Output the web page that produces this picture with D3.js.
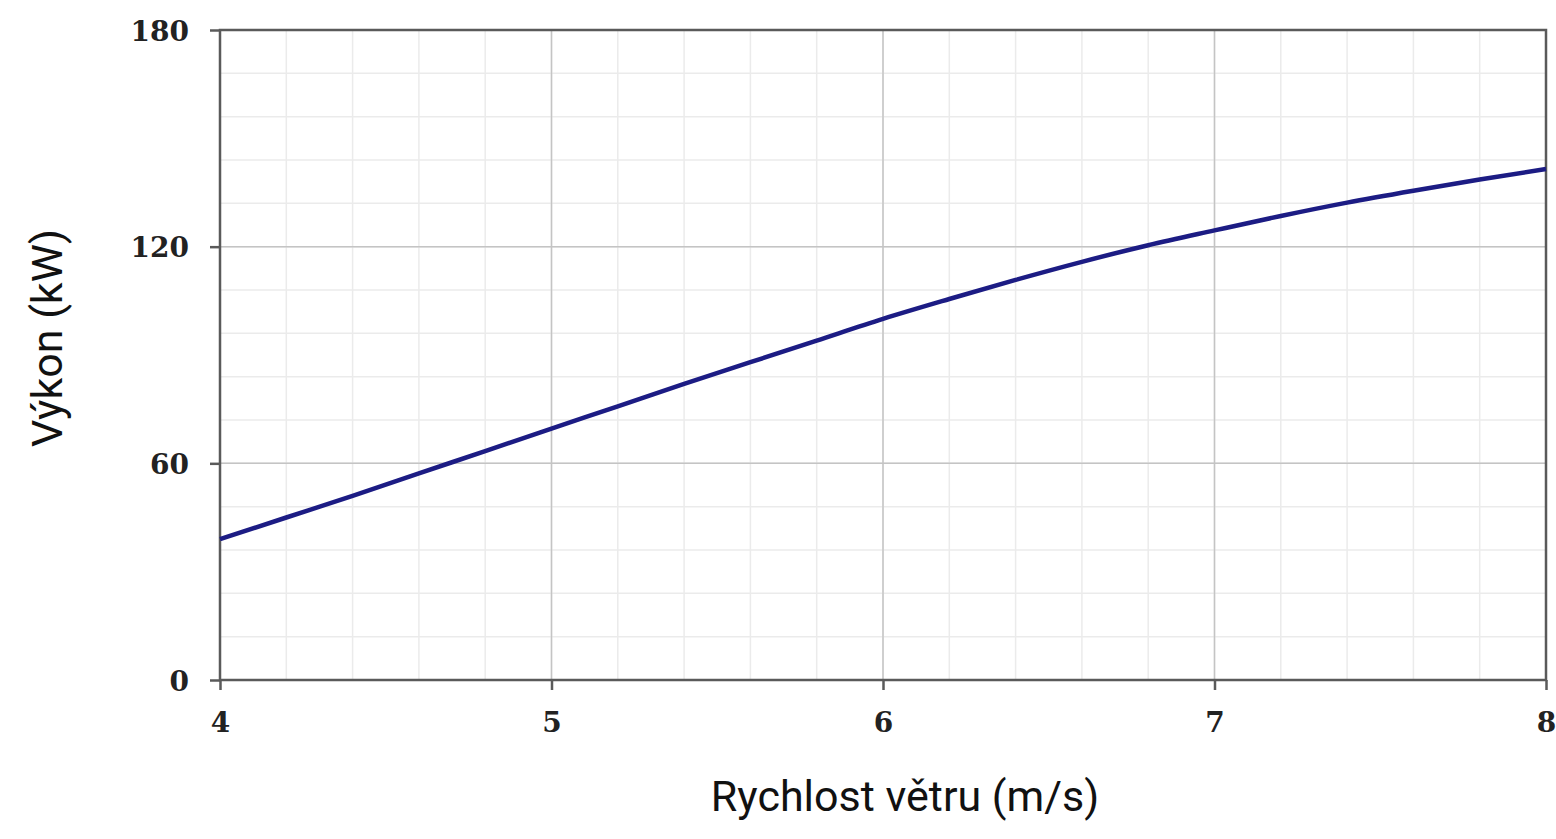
<!DOCTYPE html>
<html>
<head>
<meta charset="utf-8">
<script src="https://cdn.jsdelivr.net/npm/d3@7"></script>
<style>
  body { margin: 0; background: #fff; }
  .tick text { font-family: "DejaVu Serif", serif; font-weight: bold; font-size: 28px; fill: #222; }
  .lbl { font-family: Roboto, "Noto Sans", sans-serif; font-size: 43px; fill: #111; }
</style>
</head>
<body>
<script>
const w = 1556;
const h = 839;

// wind speed (m/s) and power (kW)
const speed = [4.0, 4.2, 4.4, 4.6, 4.8, 5.0, 5.2, 5.4, 5.6, 5.8, 6.0,
               6.2, 6.4, 6.6, 6.8, 7.0, 7.2, 7.4, 7.6, 7.8, 8.0];
const power = [39, 45, 51, 57.2, 63.4, 69.6, 75.8, 82, 88, 94, 100,
               105.5, 110.8, 115.8, 120.4, 124.5, 128.5, 132.2, 135.5, 138.6, 141.5];
const xTicks = [4, 5, 6, 7, 8];
const yTicks = [0, 60, 120, 180];

const plotLeft = 220, plotRight = 1546, plotTop = 30, plotBottom = 680;

let svg = d3.select("body").append("svg")
  .attr("width", w)
  .attr("height", h);

let x = d3.scaleLinear().domain([4, 8]).range([plotLeft, plotRight]);
let y = d3.scaleLinear().domain([0, 180]).range([plotBottom, plotTop]);

// minor grid
svg.append("g").selectAll("line")
  .data(d3.range(4, 8.001, 0.2))
  .enter().append("line")
  .attr("x1", d => x(d)).attr("x2", d => x(d))
  .attr("y1", plotTop).attr("y2", plotBottom)
  .attr("stroke", "#ebebeb").attr("stroke-width", 1.5);
svg.append("g").selectAll("line")
  .data(d3.range(0, 180.001, 12))
  .enter().append("line")
  .attr("x1", plotLeft).attr("x2", plotRight)
  .attr("y1", d => y(d)).attr("y2", d => y(d))
  .attr("stroke", "#ebebeb").attr("stroke-width", 1.5);

// major grid
svg.append("g").selectAll("line")
  .data(xTicks)
  .enter().append("line")
  .attr("x1", d => x(d)).attr("x2", d => x(d))
  .attr("y1", plotTop).attr("y2", plotBottom)
  .attr("stroke", "#c4c4c4").attr("stroke-width", 1.5);
svg.append("g").selectAll("line")
  .data(yTicks)
  .enter().append("line")
  .attr("x1", plotLeft).attr("x2", plotRight)
  .attr("y1", d => y(d)).attr("y2", d => y(d))
  .attr("stroke", "#c4c4c4").attr("stroke-width", 1.5);

// frame
svg.append("rect")
  .attr("x", plotLeft).attr("y", plotTop)
  .attr("width", plotRight - plotLeft).attr("height", plotBottom - plotTop)
  .attr("fill", "none").attr("stroke", "#5a5a5a").attr("stroke-width", 2.5);

// axes
let xAxis = svg.append("g")
  .attr("transform", "translate(0," + plotBottom + ")")
  .call(d3.axisBottom(x).tickValues(xTicks).tickSize(10).tickPadding(22).tickFormat(d3.format("d")));
let yAxis = svg.append("g")
  .attr("transform", "translate(" + plotLeft + ",0)")
  .call(d3.axisLeft(y).tickValues(yTicks).tickSize(10).tickPadding(21));
[xAxis, yAxis].forEach(a => {
  a.select(".domain").remove();
  a.selectAll(".tick line").attr("stroke", "#5a5a5a").attr("stroke-width", 2.5);
});
yAxis.selectAll(".tick text").attr("dy", "0.36em");

// curve
let line = d3.line()
  .x((d, i) => x(speed[i]))
  .y(d => y(d))
  .curve(d3.curveMonotoneX);
svg.append("path")
  .datum(power)
  .attr("d", line)
  .attr("fill", "none")
  .attr("stroke", "#1c1c84")
  .attr("stroke-width", 4.5);

// axis titles
svg.append("text")
  .attr("class", "lbl")
  .attr("x", 905).attr("y", 811)
  .style("text-anchor", "middle")
  .text("Rychlost větru (m/s)");

svg.append("text")
  .attr("class", "lbl")
  .attr("transform", "translate(62,338) rotate(-90)")
  .style("text-anchor", "middle")
  .text("Výkon (kW)");
</script>
</body>
</html>
